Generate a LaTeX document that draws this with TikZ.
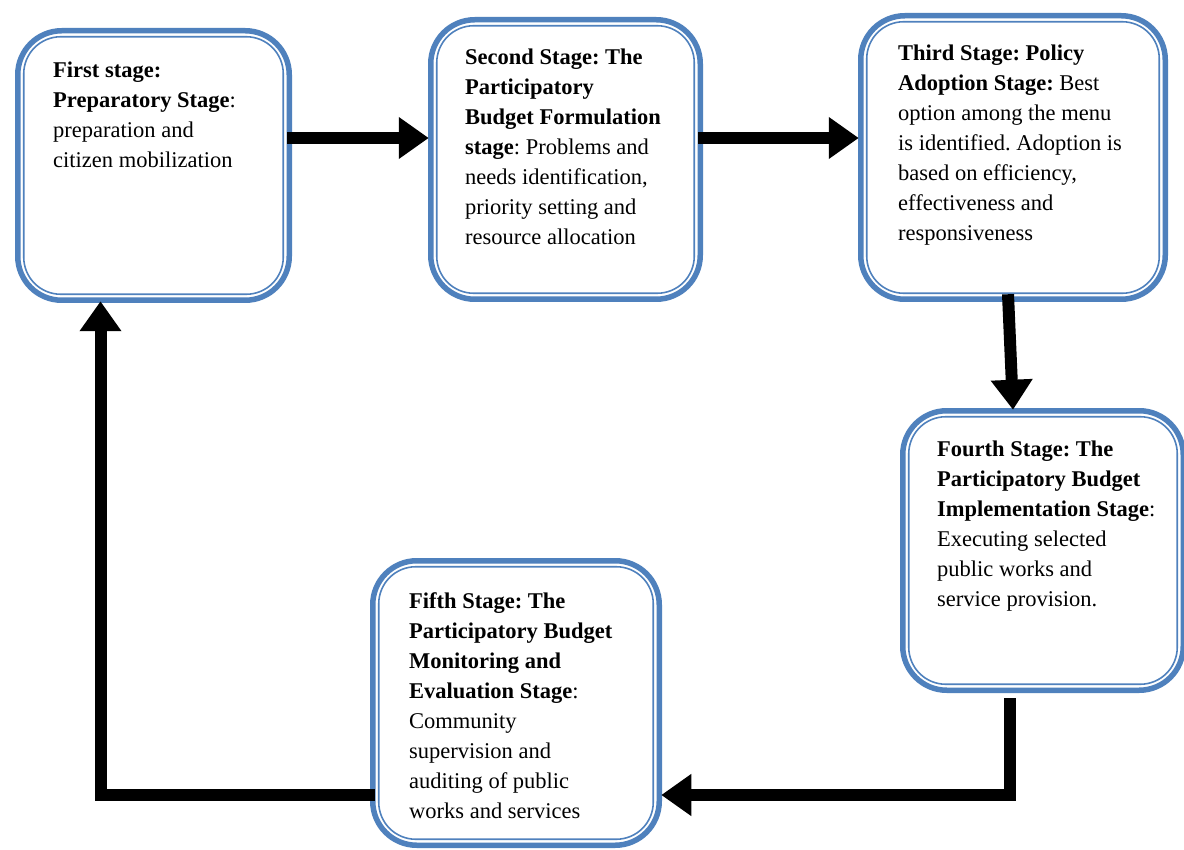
\documentclass[tikz,border=0pt]{standalone}
\usepackage{fontspec}
\setmainfont{Liberation Serif}
\usetikzlibrary{arrows.meta}
\definecolor{boxblue}{HTML}{4F81BD}
\frenchspacing
\tikzset{
  stagebox/.style={draw=boxblue, line width=5.5pt, rounded corners=44pt, outer sep=0pt, inner sep=0pt, fill=white},
  innerline/.style={draw=boxblue, line width=1.6pt, rounded corners=37pt},
  stagetext/.style={anchor=north west, inner sep=0pt, align=left, font=\fontsize{22.5}{30}\selectfont},
  conn/.style={line width=12pt, -{Triangle[width=40pt,length=30pt]}},
}
\begin{document}
\begin{tikzpicture}[x=1pt,y=-1pt]
\useasboundingbox[fill=white] (0,0) rectangle (1184,850);
\node[stagebox, minimum width=271.5pt, minimum height=269.5pt] (b1) at (153.5,165.5) {};
\node[stagebox, minimum width=269.5pt, minimum height=279.5pt] (b2) at (565.5,159.5) {};
\node[stagebox, minimum width=304.5pt, minimum height=283.5pt] (b3) at (1013,157.5) {};
\node[stagebox, minimum width=280.5pt, minimum height=279.5pt] (b4) at (1043,550.5) {};
\node[stagebox, minimum width=286.5pt, minimum height=284.5pt] (b5) at (516,703) {};
\foreach \b in {b1,b2,b3,b4,b5}{
  \draw[innerline] ([xshift=6pt,yshift=6pt]\b.south west) rectangle ([xshift=-6pt,yshift=-6pt]\b.north east);
}
\node[stagetext] (t1) at (53,62) {\textbf{First stage:}\\ \textbf{Preparatory Stage}:\\ preparation and\\ citizen mobilization};
\node[stagetext] (t2) at (465,49) {\textbf{Second Stage: The}\\ \textbf{Participatory}\\ \textbf{Budget Formulation}\\ \textbf{stage}: Problems and\\ needs identification,\\ priority setting and\\ resource allocation};
\node[stagetext] (t3) at (898,45) {\textbf{Third Stage: Policy}\\ \textbf{Adoption Stage:} Best\\ option among the menu\\ is identified. Adoption is\\ based on efficiency,\\ effectiveness and\\ responsiveness};
\node[stagetext] (t4) at (937,441) {\textbf{Fourth Stage: The}\\ \textbf{Participatory Budget}\\ \textbf{Implementation Stage}:\\ Executing selected\\ public works and\\ service provision.};
\node[stagetext] (t5) at (409,592) {\textbf{Fifth Stage: The}\\ \textbf{Participatory Budget}\\ \textbf{Monitoring and}\\ \textbf{Evaluation Stage}:\\ Community\\ supervision and\\ auditing of public\\ works and services};
\coordinate (a1s) at (b1.east |- 0,138);
\coordinate (a1e) at (b2.west |- 0,138);
\coordinate (a2s) at (b2.east |- 0,138);
\coordinate (a2e) at (b3.west |- 0,138);
\draw[conn] ([xshift=-2pt]a1s) -- ([xshift=-2pt]a1e);
\draw[conn] ([xshift=-2pt]a2s) -- ([xshift=-2pt]a2e);
\draw[conn] ([xshift=-5pt,yshift=5pt]b3.south) -- ([xshift=-30pt,yshift=1pt]b4.north);
\coordinate (a4s) at ([xshift=-33pt,yshift=-8pt]b4.south);
\coordinate (a4e) at ([yshift=-92pt,xshift=2pt]b5.east);
\draw[conn] (a4s) |- (a4e);
\coordinate (a5s) at ([yshift=-92pt,xshift=2pt]b5.west);
\coordinate (a5e) at ([xshift=-53pt,yshift=-1pt]b1.south);
\draw[conn] (a5s) -| (a5e);
\end{tikzpicture}
\end{document}
